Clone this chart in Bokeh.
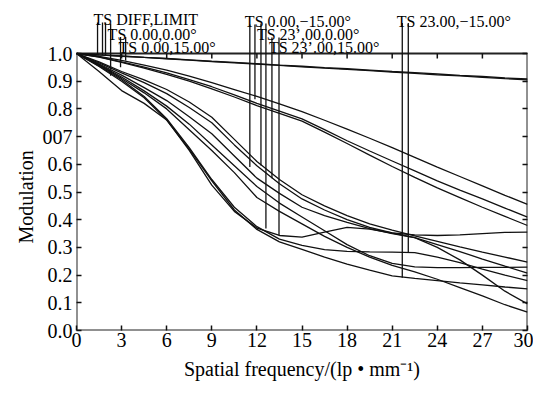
from bokeh.plotting import figure
from bokeh.models import Range1d, FixedTicker, LinearAxis, ColumnDataSource, Title
from bokeh.core.properties import value
from bokeh.embed import file_html
from bokeh.resources import INLINE

# ---------------- data ----------------
freq = [0, 1.5, 3, 4.5, 6, 7.5, 9, 10.5, 12, 13.5, 15, 16.5, 18, 19.5, 21, 22.5, 24, 25.5, 27, 28.5, 30]

diff_t = [1.000, 0.995, 0.990, 0.986, 0.981, 0.976, 0.971, 0.966, 0.962, 0.957, 0.952, 0.947, 0.943, 0.938, 0.933, 0.928, 0.923, 0.919, 0.914, 0.909, 0.905]
diff_s = [1.000, 0.995, 0.991, 0.986, 0.982, 0.977, 0.972, 0.968, 0.963, 0.958, 0.954, 0.949, 0.945, 0.940, 0.935, 0.931, 0.926, 0.921, 0.917, 0.912, 0.908]

upper_1 = [1.000, 0.990, 0.975, 0.958, 0.940, 0.918, 0.895, 0.870, 0.845, 0.818, 0.790, 0.759, 0.727, 0.694, 0.660, 0.625, 0.590, 0.556, 0.522, 0.488, 0.455]
upper_2 = [1.000, 0.988, 0.970, 0.951, 0.930, 0.906, 0.880, 0.851, 0.820, 0.792, 0.764, 0.725, 0.685, 0.648, 0.612, 0.576, 0.540, 0.507, 0.475, 0.442, 0.409]
upper_3 = [1.000, 0.987, 0.968, 0.947, 0.925, 0.900, 0.872, 0.843, 0.812, 0.784, 0.756, 0.716, 0.675, 0.633, 0.592, 0.553, 0.515, 0.480, 0.445, 0.412, 0.379]

mid_a = [1.000, 0.970, 0.935, 0.905, 0.870, 0.825, 0.770, 0.690, 0.610, 0.545, 0.490, 0.450, 0.415, 0.385, 0.362, 0.342, 0.322, 0.302, 0.283, 0.265, 0.247]
mid_b = [1.000, 0.966, 0.930, 0.895, 0.855, 0.805, 0.750, 0.670, 0.595, 0.530, 0.475, 0.435, 0.400, 0.372, 0.352, 0.335, 0.310, 0.285, 0.258, 0.232, 0.207]
mid_c = [1.000, 0.962, 0.922, 0.877, 0.830, 0.772, 0.710, 0.630, 0.550, 0.495, 0.445, 0.415, 0.390, 0.368, 0.350, 0.335, 0.300, 0.255, 0.200, 0.142, 0.096]
mid_e = [1.000, 0.960, 0.915, 0.865, 0.810, 0.745, 0.670, 0.595, 0.520, 0.460, 0.410, 0.360, 0.310, 0.270, 0.242, 0.230, 0.227, 0.227, 0.228, 0.228, 0.229]
mid_f = [1.000, 0.958, 0.910, 0.858, 0.800, 0.725, 0.650, 0.570, 0.480, 0.430, 0.385, 0.340, 0.300, 0.265, 0.235, 0.212, 0.185, 0.155, 0.125, 0.093, 0.066]

steep_1 = [1.000, 0.955, 0.905, 0.845, 0.765, 0.660, 0.545, 0.445, 0.375, 0.330, 0.307, 0.292, 0.286, 0.284, 0.283, 0.281, 0.265, 0.245, 0.222, 0.200, 0.180]
steep_2 = [1.000, 0.953, 0.900, 0.840, 0.760, 0.650, 0.525, 0.430, 0.370, 0.343, 0.337, 0.355, 0.372, 0.366, 0.352, 0.345, 0.343, 0.345, 0.350, 0.354, 0.355]
steep_3 = [1.000, 0.935, 0.866, 0.820, 0.760, 0.655, 0.540, 0.435, 0.365, 0.320, 0.293, 0.265, 0.240, 0.218, 0.197, 0.188, 0.180, 0.172, 0.165, 0.157, 0.150]

series = [diff_t, diff_s, upper_1, upper_2, upper_3, mid_a, mid_b, mid_c, mid_e, mid_f, steep_1, steep_2, steep_3]

# legend labels (Zemax style) and their pointer lines
label_text = ["TS DIFF,LIMIT", "TS 0.00,0.00°", "TS 0.00,15.00°",
              "TS 0.00,\u221215.00°", "TS 23\u2019,00,0.00°", "TS 23\u2019.00,15.00°",
              "TS 23.00,\u221215.00°"]
label_x = [1.13, 2.07, 2.80, 11.20, 12.00, 12.80, 21.30]
label_y = [1.123, 1.070, 1.023, 1.117, 1.070, 1.022, 1.114]

pointer_x = [1.40, 1.73, 1.93, 2.27, 2.93, 3.27, 11.53, 11.87, 12.27, 12.60, 13.00, 13.47, 21.67, 22.07]
pointer_top = [1.112, 1.112, 1.112, 1.108, 1.060, 1.060, 1.105, 1.105, 1.108, 1.108, 1.058, 1.058, 1.110, 1.110]
pointer_bottom = [0.996, 0.995, 0.993, 0.920, 0.950, 0.975, 0.590, 0.835, 0.596, 0.368, 0.550, 0.343, 0.190, 0.283]

x_ticks = [0, 3, 6, 9, 12, 15, 18, 21, 24, 27, 30]
top_ticks = [3, 6, 9, 12, 15, 18, 21, 24, 27]
y_ticks = [0.0, 0.1, 0.2, 0.3, 0.4, 0.5, 0.6, 0.7, 0.8, 0.9, 1.0]
y_tick_labels = ["0.0", "0.1", "0.2", "0.3", "0.4", "0.5", "0.6", "007", "0.8", "0.9", "1.0"]

X_MIN, X_MAX = 0, 30
Y_MIN, Y_MAX = 0.0, 1.0
Y_TOP = 328 / 277          # room above the frame for the labels

SERIF = "Liberation Serif"
INK = "#111111"

p = figure(width=533, height=388, x_range=Range1d(X_MIN, X_MAX), y_range=Range1d(Y_MIN, Y_TOP),
           output_backend="svg", toolbar_location=None,
           min_border_left=76, min_border_right=6, min_border_top=2, min_border_bottom=58)
p.grid.visible = False
p.outline_line_color = None
p.background_fill_color = "white"
p.border_fill_color = "white"

# bottom axis
xa = p.xaxis[0]
xa.ticker = FixedTicker(ticks=x_ticks)
xa.axis_line_color = None
xa.major_tick_in = 5
xa.major_tick_out = 0
xa.major_tick_line_width = 1.5
xa.major_tick_line_color = INK
xa.minor_tick_line_color = None
xa.major_label_standoff = 2
xa.major_label_text_font = SERIF
xa.major_label_text_font_size = "20px"
xa.major_label_text_color = "black"
xa.axis_label = "Spatial frequency/(lp \u2022 mm\u207b\u00b9)"
xa.axis_label_text_font = SERIF
xa.axis_label_text_font_size = "20px"
xa.axis_label_text_font_style = "normal"
xa.axis_label_text_color = "black"
xa.axis_label_standoff = 8

# left axis
ya = p.yaxis[0]
ya.ticker = FixedTicker(ticks=y_ticks)
ya.major_label_overrides = {t: s for t, s in zip(y_ticks, y_tick_labels)}
ya.axis_line_color = None
ya.major_tick_in = 5
ya.major_tick_out = 0
ya.major_tick_line_width = 1.5
ya.major_tick_line_color = INK
ya.minor_tick_line_color = None
ya.major_label_standoff = 4
ya.major_label_text_font = SERIF
ya.major_label_text_font_size = "20px"
ya.major_label_text_color = "black"

# right axis (ticks only)
ra = LinearAxis(ticker=FixedTicker(ticks=y_ticks), axis_line_color=None,
                major_tick_in=5, major_tick_out=0, major_tick_line_width=1.5,
                major_tick_line_color=INK, minor_tick_line_color=None,
                major_label_text_font_size="0px", major_label_text_color=None,
                major_label_standoff=0)
p.add_layout(ra, "right")

# y-axis title, placed along the 0..1 part of the frame
ttl_kw = dict(text="Modulation", align="left", offset=87, vertical_align="top",
              text_font=SERIF, text_font_size="20px", text_font_style="normal",
              text_color="black")
if "standoff" in Title.properties():
    ttl_kw["standoff"] = 2
p.add_layout(Title(**ttl_kw), "left")

# frame box (0..30 x 0..1)
p.line(x=[X_MIN, X_MAX, X_MAX, X_MIN, X_MIN], y=[Y_MIN, Y_MIN, Y_MAX, Y_MAX, Y_MIN],
       line_color="#222222", line_width=2)
# top ticks (pointing down)
tick_len = 5 / 277
p.segment(x0=top_ticks, y0=[Y_MAX] * len(top_ticks), x1=top_ticks,
          y1=[Y_MAX - tick_len] * len(top_ticks), line_color=INK, line_width=1.5)

# curves
for s in series:
    p.line(x=freq, y=s, line_color=INK, line_width=1.3)

# pointer lines
p.segment(x0=pointer_x, y0=pointer_top, x1=pointer_x, y1=pointer_bottom,
          line_color=INK, line_width=1.3)

# labels
src = ColumnDataSource(dict(x=label_x, y=label_y, t=label_text))
p.text(x="x", y="y", text="t", source=src, text_font=value(SERIF),
       text_font_size=value("16px"), text_color="black",
       text_align="left", text_baseline="alphabetic")

open("out.html", "w").write(file_html(p, INLINE))
